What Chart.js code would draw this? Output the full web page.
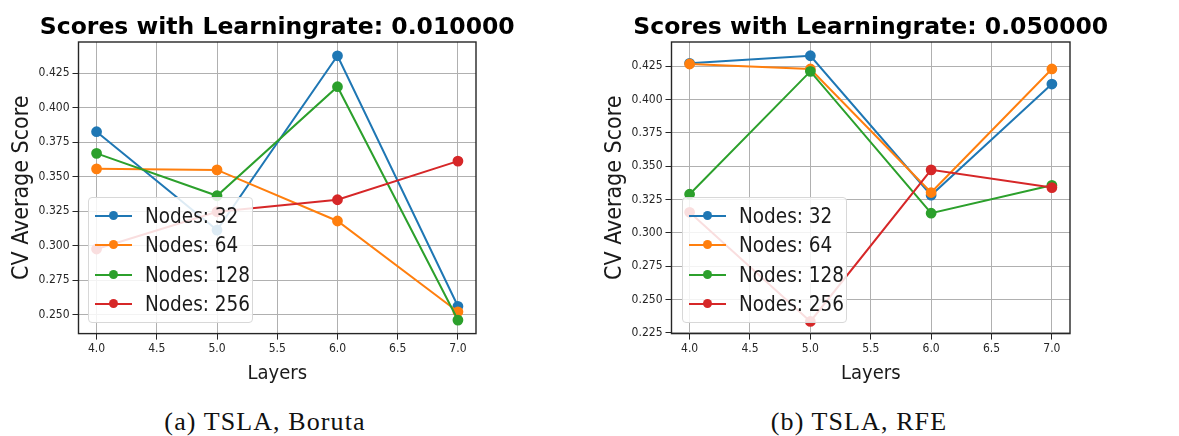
<!DOCTYPE html>
<html>
<head>
<meta charset="utf-8">
<script src="https://cdn.jsdelivr.net/npm/chart.js@4/dist/chart.umd.min.js"></script>
<style>
  html, body { margin: 0; padding: 0; background: #fff; }
  body { width: 1179px; height: 436px; position: relative; overflow: hidden; }
  .panel { position: absolute; top: 0; height: 390px; }
  .legend { position: absolute; background: rgba(255,255,255,0.85); border: 1px solid #d8d8d8; border-radius: 4px; box-sizing: border-box; padding-top: 4px; }
  .row { position: relative; height: 29.3px; font-family: "DejaVu Sans Condensed", "DejaVu Sans", sans-serif; font-size: 20.5px; color: #1a1a1a; }
  .row .ln { position: absolute; left: 6px; width: 37px; height: 2px; top: 13px; }
  .row .dot { position: absolute; left: 20px; width: 9px; height: 9px; border-radius: 50%; top: 9px; }
  .row .tx { position: absolute; left: 56px; top: 1px; line-height: 26px; white-space: nowrap; }
  .cap { position: absolute; top: 407px; font-family: "Liberation Serif", "DejaVu Serif", serif; font-size: 26px; letter-spacing: 1.1px; color: #111; transform: translateX(-50%); white-space: nowrap; }
</style>
</head>
<body>
<div class="panel" id="p1" style="left:0;width:590px;"><canvas id="c1"></canvas></div>
<div class="panel" id="p2" style="left:590px;width:589px;"><canvas id="c2"></canvas></div>
<div class="legend" id="lg1" style="left:88px;top:197px;width:165px;height:126px;"></div>
<div class="legend" id="lg2" style="left:682px;top:197px;width:165px;height:126px;"></div>
<div class="cap" style="left:265px;">(a) TSLA, Boruta</div>
<div class="cap" style="left:859px;">(b) TSLA, RFE</div>
<script>
// ---- data ----
const layers = [4, 5, 6, 7];
const seriesNames = ["Nodes: 32", "Nodes: 64", "Nodes: 128", "Nodes: 256"];
const xTicks = [4.0, 4.5, 5.0, 5.5, 6.0, 6.5, 7.0];

const titleA = "Scores with Learningrate: 0.010000";
const borutaN32  = [0.3825, 0.3112, 0.4375, 0.2560];
const borutaN64  = [0.3556, 0.3548, 0.3178, 0.2520];
const borutaN128 = [0.3668, 0.3361, 0.4151, 0.2460];
const borutaN256 = [0.2975, 0.3245, 0.3332, 0.3612];
const yTicksA = [0.250, 0.275, 0.300, 0.325, 0.350, 0.375, 0.400, 0.425];

const titleB = "Scores with Learningrate: 0.050000";
const rfeN32  = [0.4270, 0.4327, 0.3282, 0.4115];
const rfeN64  = [0.4265, 0.4228, 0.3302, 0.4228];
const rfeN128 = [0.3289, 0.4210, 0.3147, 0.3356];
const rfeN256 = [0.3154, 0.2336, 0.3472, 0.3339];
const yTicksB = [0.225, 0.250, 0.275, 0.300, 0.325, 0.350, 0.375, 0.400, 0.425];

const xLabel = "Layers";
const yLabel = "CV Average Score";

// ---- style ----
const colors = ["#1f77b4", "#ff7f0e", "#2ca02c", "#d62728"];
const sans = '"DejaVu Sans Condensed", "DejaVu Sans", sans-serif';

// frame around the axes + title centred over the plot area
const framePlugin = {
  id: 'frame',
  afterDatasetsDraw(chart) {
    const a = chart.chartArea, ctx = chart.ctx;
    ctx.save();
    ctx.strokeStyle = '#262626';
    ctx.lineWidth = 1.4;
    ctx.strokeRect(a.left, a.top, a.right - a.left, a.bottom - a.top);
    ctx.restore();
  },
  afterDraw(chart, args, opts) {
    const a = chart.chartArea, ctx = chart.ctx;
    ctx.save();
    ctx.fillStyle = '#000';
    ctx.font = 'bold 23.5px "DejaVu Sans", sans-serif';
    ctx.textAlign = 'center';
    ctx.textBaseline = 'alphabetic';
    ctx.fillText(opts.text, (a.left + a.right) / 2, a.top - 8);
    ctx.restore();
  }
};

function makeChart(id, title, series, yTicks, yMin, yMax, pad) {
  const datasets = series.map((vals, i) => ({
    label: seriesNames[i],
    data: layers.map((x, j) => ({ x: x, y: vals[j] })),
    borderColor: colors[i],
    backgroundColor: colors[i],
    pointBackgroundColor: colors[i],
    pointBorderColor: colors[i],
    borderWidth: 2,
    pointRadius: 4.4,
    pointHoverRadius: 4.4,
    tension: 0,
    order: series.length - 1 - i
  }));
  return new Chart(document.getElementById(id), {
    type: 'line',
    data: { datasets },
    plugins: [framePlugin],
    options: {
      responsive: true,
      maintainAspectRatio: false,
      animation: false,
      events: [],
      layout: { padding: pad },
      plugins: {
        legend: { display: false },
        tooltip: { enabled: false },
        title: { display: false },
        frame: { text: title }
      },
      scales: {
        x: {
          type: 'linear', min: 3.85, max: 7.15,
          afterBuildTicks: ax => { ax.ticks = xTicks.map(v => ({ value: v })); },
          ticks: { color: '#262626', font: { family: sans, size: 12 }, padding: 2, maxRotation: 0,
                   callback: v => Number(v).toFixed(1) },
          grid: { color: '#b0b0b0', lineWidth: 1, tickColor: '#262626', tickLength: 6, drawTicks: true },
          border: { display: false },
          title: { display: true, text: xLabel, color: '#1a1a1a', font: { family: sans, size: 20 }, padding: { top: 4, bottom: 4 } }
        },
        y: {
          type: 'linear', min: yMin, max: yMax,
          afterBuildTicks: ax => { ax.ticks = yTicks.map(v => ({ value: v })); },
          ticks: { color: '#262626', font: { family: sans, size: 12 }, padding: 3,
                   callback: v => Number(v).toFixed(3) },
          grid: { color: '#b0b0b0', lineWidth: 1, tickColor: '#262626', tickLength: 6, drawTicks: true },
          border: { display: false },
          title: { display: true, text: yLabel, color: '#1a1a1a', font: { family: sans, size: 23 }, padding: { top: 8, bottom: 0 } }
        }
      }
    }
  });
}

function makeLegend(id) {
  const el = document.getElementById(id);
  seriesNames.forEach((name, i) => {
    const r = document.createElement('div');
    r.className = 'row';
    r.innerHTML = '<div class="ln" style="background:' + colors[i] + '"></div>' +
                  '<div class="dot" style="background:' + colors[i] + '"></div>' +
                  '<div class="tx"></div>';
    r.querySelector('.tx').textContent = name;
    el.appendChild(r);
  });
}

makeChart('c1', titleA, [borutaN32, borutaN64, borutaN128, borutaN256], yTicksA, 0.2362, 0.4475,
          { left: 0, right: 114, top: 42, bottom: 0 });
makeChart('c2', titleB, [rfeN32, rfeN64, rfeN128, rfeN256], yTicksB, 0.2245, 0.4430,
          { left: 3, right: 109, top: 42, bottom: 0 });
makeLegend('lg1');
makeLegend('lg2');
</script>
</body>
</html>
